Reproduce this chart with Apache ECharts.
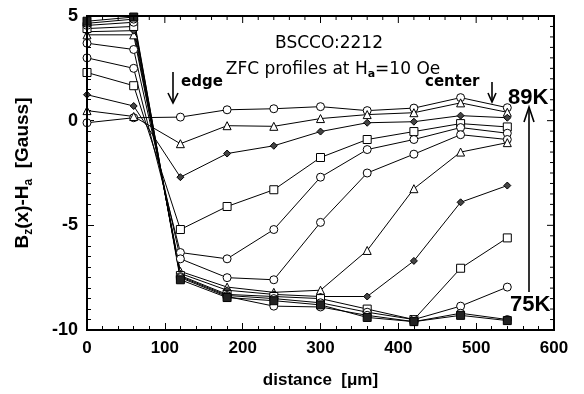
<!DOCTYPE html>
<html>
<head>
<meta charset="utf-8">
<script src="https://cdn.jsdelivr.net/npm/echarts@6/dist/echarts.min.js"></script>
<style>
  html, body { margin: 0; padding: 0; background: #fff; }
  #mainChart { width: 584px; height: 394px; }
</style>
</head>
<body>
<div id="mainChart"></div>
<script>
// positions across the sample (um)
var distance = [0, 60, 120, 180, 240, 300, 360, 420, 480, 540];

// ZFC profiles, 89K (top on the right) down to 75K
var t89 = [-0.1, 0.14, 0.17, 0.52, 0.57, 0.67, 0.48, 0.6, 1.1, 0.62];
var t88 = [0.48, 0.2, -1.1, -0.24, -0.27, 0.1, 0.29, 0.38, 0.85, 0.4];
var t87 = [1.24, 0.7, -2.7, -1.57, -1.2, -0.52, -0.1, -0.05, 0.24, 0.14];
var t86 = [2.3, 1.67, -5.2, -4.1, -3.3, -1.76, -0.9, -0.52, -0.14, -0.3];
var t85 = [3.0, 2.5, -6.3, -6.6, -5.2, -2.7, -1.38, -0.9, -0.33, -0.6];
var t84 = [3.7, 3.4, -6.6, -7.5, -7.6, -4.86, -2.5, -1.6, -0.67, -0.9];
var t83 = [4.1, 4.1, -7.2, -7.95, -8.2, -8.1, -6.2, -3.25, -1.5, -1.05];
var t82 = [4.25, 4.3, -7.3, -8.1, -8.3, -8.4, -8.4, -6.7, -3.9, -3.1];
var t80 = [4.4, 4.5, -7.4, -8.3, -8.4, -8.5, -9.0, -9.5, -7.05, -5.6];
var t78 = [4.55, 4.7, -7.45, -8.35, -8.5, -8.7, -9.15, -9.5, -8.86, -7.95];
var t76 = [4.65, 4.85, -7.5, -8.4, -8.86, -8.9, -9.3, -9.6, -9.2, -9.5];
var t75 = [4.75, 4.95, -7.6, -8.45, -8.6, -8.8, -9.4, -9.6, -9.3, -9.55];

var xTicks = [0, 100, 200, 300, 400, 500, 600];
var yTicks = [-10, -5, 0, 5];

var myChart = echarts.init(document.getElementById('mainChart'));

function pairs(vals) {
    return distance.map(function (d, i) { return [d, vals[i]]; });
}

function curve(name, vals, symbol, fill) {
    return {
        name: name,
        type: 'line',
        data: pairs(vals),
        symbol: symbol,
        symbolSize: symbol === 'diamond' ? 7 : 8,
        showAllSymbol: true,
        lineStyle: { color: '#000', width: 1 },
        itemStyle: { color: fill || '#fff', borderColor: '#000', borderWidth: 1 },
        z: 3
    };
}

var font = 'Liberation Sans, Arial, sans-serif';
var wide = 'DejaVu Sans, sans-serif';
var arrowStyle = { stroke: '#000', lineWidth: 1.6, fill: null };

function axisLine() {
    return { show: true, onZero: false, lineStyle: { color: '#000', width: 1.5 } };
}
function majorTick() {
    return { show: true, inside: true, length: 7, lineStyle: { color: '#000' } };
}
function minor(n) {
    return { show: true, splitNumber: n, length: 4, lineStyle: { color: '#000' } };
}

myChart.setOption({
    animation: false,
    grid: { left: 87, right: 30, top: 16, bottom: 63, show: true, borderColor: '#000', borderWidth: 2, backgroundColor: 'transparent' },
    xAxis: [{
        type: 'value',
        min: 0, max: 600, interval: 100,
        name: 'distance  [\u03bcm]',
        nameLocation: 'middle',
        nameGap: 42,
        nameTextStyle: { fontFamily: font, fontSize: 17, fontWeight: 'bold', color: '#000' },
        axisLine: axisLine(),
        axisTick: majorTick(),
        minorTick: minor(5),
        axisLabel: {
            margin: 10, fontFamily: font, fontSize: 17, fontWeight: 'bold', color: '#000',
            formatter: function (v) { return xTicks.indexOf(v) >= 0 ? String(v) : ''; }
        },
        splitLine: { show: false }
    }],
    yAxis: [{
        type: 'value',
        min: -10, max: 5, interval: 5,
        name: '{b|B}{s|z}{b|(x)-H}{s|a}{b|  [Gauss]}',
        nameLocation: 'middle',
        nameGap: 52,
        nameTextStyle: {
            rich: {
                b: { fontFamily: font, fontSize: 19, fontWeight: 'bold', color: '#000' },
                s: { fontFamily: font, fontSize: 12, fontWeight: 'bold', color: '#000', verticalAlign: 'bottom', padding: [12, 0, 0, 0] }
            }
        },
        axisLine: axisLine(),
        axisTick: majorTick(),
        minorTick: minor(10),
        axisLabel: {
            margin: 9, fontFamily: font, fontSize: 18, fontWeight: 'bold', color: '#000',
            formatter: function (v) { return yTicks.indexOf(v) >= 0 ? String(v) : ''; }
        },
        splitLine: { show: false }
    }],
    series: [
        curve('89K', t89, 'circle'),
        curve('88K', t88, 'triangle'),
        curve('87K', t87, 'diamond', '#444'),
        curve('86K', t86, 'rect'),
        curve('85K', t85, 'circle'),
        curve('84K', t84, 'circle'),
        curve('83K', t83, 'triangle'),
        curve('82K', t82, 'diamond', '#444'),
        curve('80K', t80, 'rect'),
        curve('78K', t78, 'circle'),
        curve('76K', t76, 'circle'),
        curve('75K', t75, 'rect', '#222')
    ]
});

// annotations
var graphics = [
    { type: 'text', x: 329, y: 35, style: { text: 'BSCCO:2212', align: 'center', fontFamily: wide, fontSize: 17, fill: '#000' } },
    {
        type: 'text', x: 333, y: 60,
        style: {
            text: '{n|ZFC profiles at H}{s|a}{n|=10 Oe}',
            align: 'center',
            rich: {
                n: { fontFamily: wide, fontSize: 17, color: '#000' },
                s: { fontFamily: wide, fontSize: 11, fontWeight: 'bold', color: '#000', padding: [9, 0, 0, 0] }
            }
        }
    },
    { type: 'text', x: 181, y: 75, style: { text: 'edge', fontFamily: wide, fontSize: 15, fontWeight: 'bold', fill: '#000' } },
    { type: 'line', shape: { x1: 173, y1: 72, x2: 173, y2: 102 }, style: arrowStyle },
    { type: 'polyline', shape: { points: [[168, 93], [173, 103], [178, 93]] }, style: arrowStyle },
    { type: 'text', x: 425, y: 75, style: { text: 'center', fontFamily: wide, fontSize: 15, fontWeight: 'bold', fill: '#000' } },
    { type: 'line', shape: { x1: 492, y1: 82, x2: 492, y2: 101 }, style: arrowStyle },
    { type: 'polyline', shape: { points: [[488, 93], [492, 102], [496, 93]] }, style: arrowStyle },
    { type: 'text', x: 508, y: 87, style: { text: '89K', fontFamily: font, fontSize: 22, fontWeight: 'bold', fill: '#000' } },
    { type: 'line', shape: { x1: 529, y1: 108, x2: 529, y2: 292 }, style: arrowStyle },
    { type: 'polyline', shape: { points: [[524, 122], [529, 107], [534, 122]] }, style: arrowStyle },
    { type: 'text', x: 510, y: 294, style: { text: '75K', fontFamily: font, fontSize: 22, fontWeight: 'bold', fill: '#000' } }
];

// top and right frame with inward ticks, placed through the axes' scale
var tl = myChart.convertToPixel({ xAxisIndex: 0, yAxisIndex: 0 }, [0, 5]);
var br = myChart.convertToPixel({ xAxisIndex: 0, yAxisIndex: 0 }, [600, -10]);
graphics.push({
    type: 'rect', z: 10,
    shape: { x: tl[0], y: tl[1], width: br[0] - tl[0], height: br[1] - tl[1] },
    style: { stroke: '#000', lineWidth: 2, fill: 'rgba(0,0,0,0)' }
});
for (var xv = 20; xv < 600; xv += 20) {
    var px = myChart.convertToPixel({ xAxisIndex: 0, yAxisIndex: 0 }, [xv, 5])[0];
    var len = xv % 100 === 0 ? 7 : 4;
    graphics.push({ type: 'line', z: 10, shape: { x1: px, y1: tl[1], x2: px, y2: tl[1] + len }, style: { stroke: '#000', lineWidth: 1 } });
}
for (var k = 1; k < 30; k++) {
    var yv = -10 + k * 0.5;
    var py = myChart.convertToPixel({ xAxisIndex: 0, yAxisIndex: 0 }, [600, yv])[1];
    var ylen = k % 10 === 0 ? 7 : 4;
    graphics.push({ type: 'line', z: 10, shape: { x1: br[0], y1: py, x2: br[0] - ylen, y2: py }, style: { stroke: '#000', lineWidth: 1 } });
}
myChart.setOption({ graphic: graphics });
</script>
</body>
</html>
